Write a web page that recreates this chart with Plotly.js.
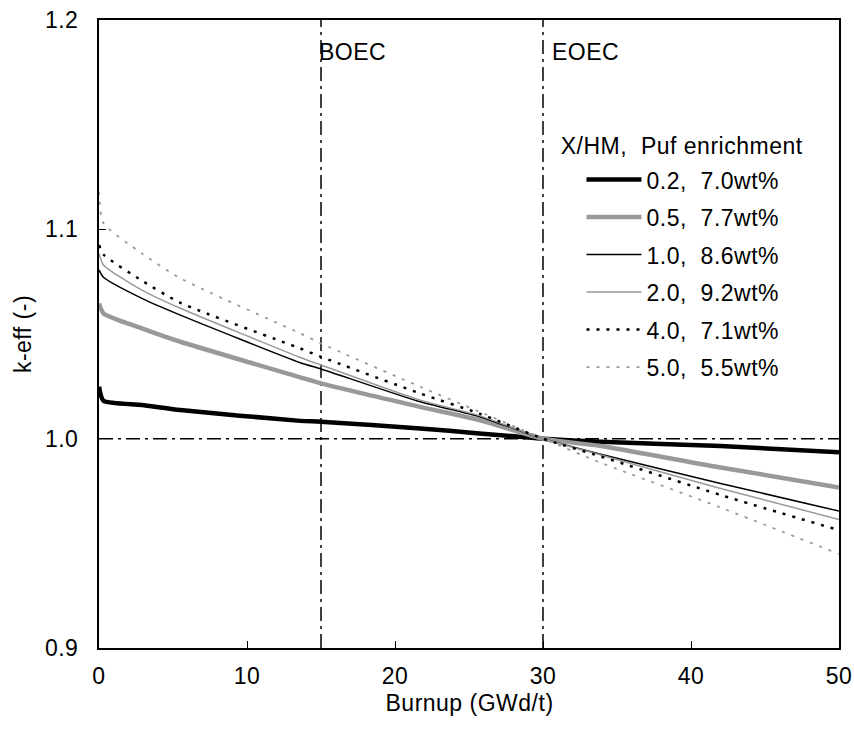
<!DOCTYPE html>
<html>
<head>
<meta charset="utf-8">
<script src="https://cdn.plot.ly/plotly-3.0.1.min.js"></script>
<style>html,body{margin:0;padding:0;background:#fff;}#chart{width:854px;height:742px;}
#chart svg text{letter-spacing:0.5px;}</style>
</head>
<body>
<div id="chart"></div>
<script>
// Burnup points (GWd/t) at which k-eff was read
const burnup = [0, 0.3, 2.9, 5.5, 13.6, 15, 21.7, 25.7, 30, 33.9, 42, 50];

// k-eff series (labels: X/HM, Puf enrichment)
const seriesNames = ["0.2,  7.0wt%", "0.5,  7.7wt%", "1.0,  8.6wt%", "2.0,  9.2wt%", "4.0,  7.1wt%", "5.0,  5.5wt%"];
const keff_02 = [1.0248, 1.0181, 1.0161, 1.0137, 1.0085, 1.0081, 1.0049, 1.0025, 1.0, 0.9985, 0.9965, 0.9935];
const keff_05 = [1.0646, 1.0599, 1.0527, 1.0463, 1.0293, 1.0264, 1.0152, 1.0089, 1.0, 0.9965, 0.9862, 0.9767];
const keff_10 = [1.0806, 1.0771, 1.0670, 1.0590, 1.0363, 1.0333, 1.0176, 1.0105, 1.0, 0.9926, 0.9786, 0.9654];
const keff_20 = [1.0885, 1.0830, 1.0710, 1.0623, 1.0388, 1.0352, 1.0184, 1.0110, 1.0, 0.9922, 0.9762, 0.9614];
const keff_40 = [1.0925, 1.0880, 1.0755, 1.0649, 1.0431, 1.0391, 1.0216, 1.0120, 1.0, 0.9915, 0.9731, 0.9563];
const keff_50 = [1.1180, 1.1030, 1.0885, 1.0766, 1.0503, 1.0455, 1.0248, 1.0129, 1.0, 0.9885, 0.9671, 0.9449];

// Reference markers
const boec = 15, eoec = 30, critical = 1.0;
const xTicks = [0, 10, 20, 30, 40, 50];
const yTicks = [0.9, 1.0, 1.1, 1.2];

const styles = [
  {color: "#000000", width: 4.5, dash: "solid"},
  {color: "#999999", width: 4.5, dash: "solid"},
  {color: "#000000", width: 1.5, dash: "solid"},
  {color: "#999999", width: 1.5, dash: "solid"},
  {color: "#000000", width: 2.5, dash: "3px,7px"},
  {color: "#999999", width: 1.8, dash: "3px,7px"}
];
const allY = [keff_02, keff_05, keff_10, keff_20, keff_40, keff_50];

const traces = allY.map((ys, i) => ({
  x: burnup, y: ys, type: "scatter", mode: "lines",
  name: seriesNames[i], legendgroup: "g" + i,
  line: {color: styles[i].color, width: styles[i].width, dash: styles[i].dash, shape: "spline", smoothing: 0.6}
}));

const font = {family: "Liberation Sans, Arial, sans-serif", size: 23, color: "#000"};
const dd = {color: "#000", width: 1.5, dash: "14px,5px,3px,5px"};

const layout = {
  width: 854, height: 742,
  margin: {l: 99, r: 15, t: 20, b: 94},
  paper_bgcolor: "#fff", plot_bgcolor: "#fff",
  font: font,
  showlegend: true,
  legend: {
    x: 0.652, y: 0.78, xanchor: "left", yanchor: "top",
    bgcolor: "rgba(0,0,0,0)", font: font,
    tracegroupgap: 4.6, traceorder: "grouped",
    itemwidth: 55
  },
  xaxis: {
    range: [0, 50], tickvals: xTicks, ticktext: xTicks.map(String),
    ticks: "inside", ticklen: 7, tickwidth: 1, tickcolor: "#000",
    showline: true, linecolor: "#000", linewidth: 2, mirror: true,
    showgrid: false, zeroline: false,
    ticklabelstandoff: 6
  },
  yaxis: {
    range: [0.9, 1.2], tickvals: yTicks, ticktext: yTicks.map(v => v.toFixed(1)),
    ticks: "inside", ticklen: 7, tickwidth: 1, tickcolor: "#000",
    showline: true, linecolor: "#000", linewidth: 2, mirror: true,
    showgrid: false, zeroline: false,
    ticklabelstandoff: 14,
    title: {text: "k-eff (-)", font: font, standoff: 8}
  },
  shapes: [
    {type: "line", xref: "x", yref: "y", x0: boec, x1: boec, y0: 0.9, y1: 1.2, line: dd, layer: "below"},
    {type: "line", xref: "x", yref: "y", x0: eoec, x1: eoec, y0: 0.9, y1: 1.2, line: dd, layer: "below"},
    {type: "line", xref: "x", yref: "y", x0: 0, x1: 50, y0: critical, y1: critical, line: dd, layer: "below"}
  ],
  annotations: [
    {xref: "paper", yref: "paper", x: 0.5, y: -0.0875, text: "Burnup (GWd/t)", showarrow: false, xanchor: "center", yanchor: "middle", font: font},
    {xref: "x", yref: "y", x: boec, y: 1.1848, text: "BOEC", showarrow: false, xanchor: "left", yanchor: "middle", xshift: -3, font: font},
    {xref: "x", yref: "y", x: eoec, y: 1.1848, text: "EOEC", showarrow: false, xanchor: "left", yanchor: "middle", xshift: 8, font: font},
    {xref: "paper", yref: "paper", x: 0.628, y: 0.799, text: "X/HM,  Puf enrichment", showarrow: false, xanchor: "left", yanchor: "middle", font: font}
  ]
};

Plotly.newPlot("chart", traces, layout, {displayModeBar: false, staticPlot: true});
</script>
</body>
</html>
